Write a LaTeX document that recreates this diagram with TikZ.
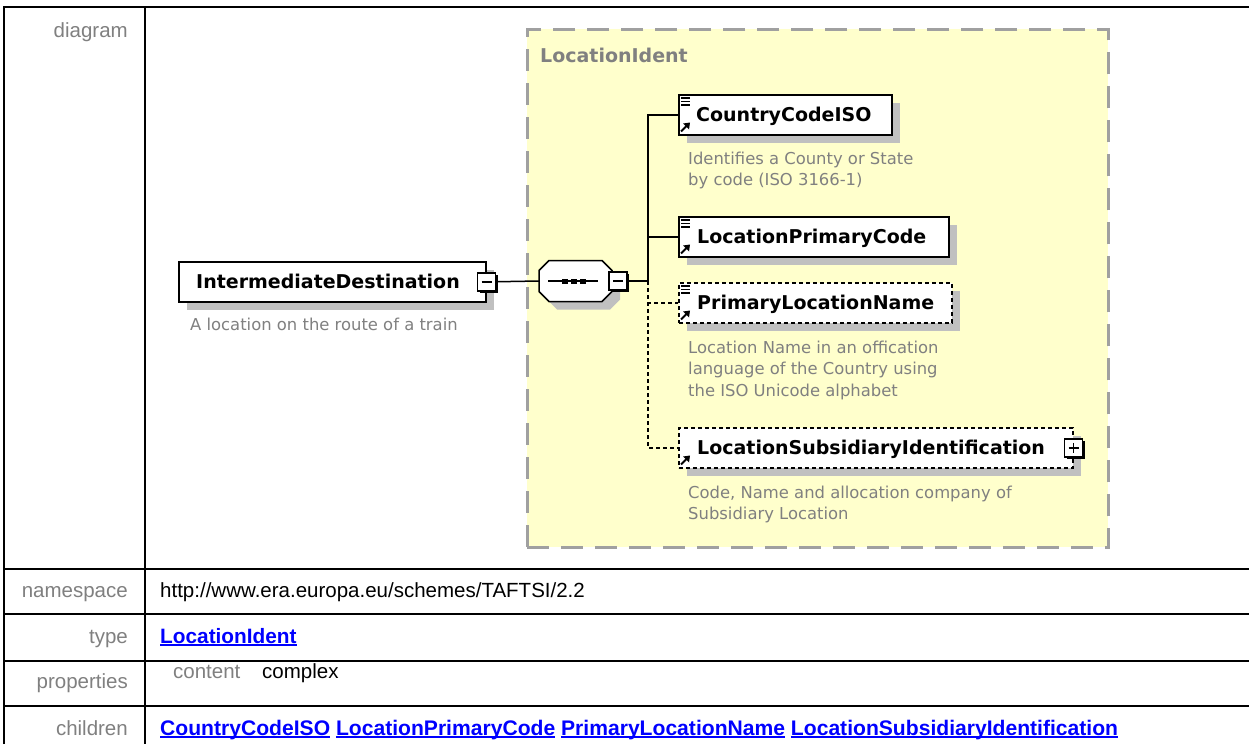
\documentclass[tikz,border=0pt]{standalone}
\usepackage{fontspec}
\setmainfont{Liberation Sans}
\newfontfamily\dfont{DejaVu Sans}
\usetikzlibrary{shadows,calc}
\definecolor{ylw}{HTML}{FFFFCC}
\definecolor{lblgray}{HTML}{808080}
\definecolor{bordgray}{HTML}{A0A0A0}
\definecolor{shgray}{HTML}{C0C0C0}
\definecolor{linkblue}{HTML}{0000FF}
\newcommand\mylink[1]{\setbox0=\hbox{#1}\rlap{\rule[-3pt]{\wd0}{1.7pt}}\box0\relax}
\newcommand\myarrow[1]{%
  \draw[line width=1.8pt] ($(#1.south west)+(3,-4)$) -- ++(6,-6);
  \fill ($(#1.south west)+(12,-13)$) -- ++(-7,1) -- ++(6,6) -- cycle;}
\newcommand\myicons[1]{%
  \foreach \yy in {4,7.5,11} \draw[line width=1.2pt] ($(#1.north west)+(3,\yy)$) -- ++(9,0);
  \myarrow{#1}}
\newcommand\octpath{(549,260.5) -- (602,260.5) -- (612,270.5) -- (612,291.5) -- (602,301.5) -- (549,301.5) -- (539,291.5) -- (539,270.5) -- cycle}
\begin{document}
\begin{tikzpicture}[x=1pt,y=-1pt,
  tline/.style={line width=2pt},
  lbl/.style={anchor=base east, inner sep=0, text=lblgray, font=\fontsize{20.5}{24}\selectfont},
  val/.style={anchor=base west, inner sep=0, font=\fontsize{20.5}{24}\selectfont},
  valb/.style={val, text=linkblue, font=\bfseries\fontsize{20.8}{24}\selectfont},
  elbox/.style={draw, fill=white, line width=1.5pt, inner sep=0, anchor=north west,
    drop shadow={shadow xshift=8pt,shadow yshift=-8pt,fill=shgray,opacity=1}},
  optbox/.style={elbox, dash pattern=on 4pt off 3pt},
  ename/.style={anchor=base west, inner sep=0, font=\dfont\bfseries\fontsize{19}{22}\selectfont},
  desc/.style={anchor=north west, inner sep=0, align=left, text=lblgray, font=\dfont\fontsize{16.4}{21.5}\selectfont},
  conn/.style={line width=1.5pt},
  optconn/.style={conn, dash pattern=on 4pt off 3pt},
  toggle/.style={draw, fill=white, line width=1.5pt, minimum size=18pt, inner sep=0,
    drop shadow={shadow xshift=2pt,shadow yshift=-2pt,fill=black,opacity=1}},
]
\useasboundingbox[fill=white] (0,0) rectangle (1249,744);

% ---- table ----
\draw[tline] (4,744) -- (4,7) -- (1249,7);
\draw[tline] (145,7) -- (145,744);
\foreach \yy in {569,614,661,706} \draw[tline] (4,\yy) -- (1249,\yy);

\node[lbl] (ldiag) at (128,37) {diagram};
\node[lbl] (lns) at (128,597) {namespace};
\node[lbl] (ltyp) at (128,643) {type};
\node[lbl] (lprop) at (128,688) {properties};
\node[lbl] (lchild) at (128,735) {children};

\node[val] (vns) at (160,597) {http://www.era.europa.eu/schemes/TAFTSI/2.2};
\node[valb] (vtype) at (160,643) {\mylink{LocationIdent}};
\node[val, text=lblgray] (vcont) at (173,678) {content};
\node[val] (vcomplex) at (262,678) {complex};
\node[valb, font=\bfseries\fontsize{21.1}{24}\selectfont] (vchild) at (160,735) {\mylink{CountryCodeISO} \mylink{LocationPrimaryCode} \mylink{PrimaryLocationName} \mylink{LocationSubsidiaryIdentification}};

% ---- diagram ----
\node[draw=bordgray, fill=ylw, line width=2.5pt, dash pattern=on 22pt off 12pt,
  minimum width=581pt, minimum height=518pt, anchor=north west, inner sep=0] (ltype) at (526,28) {};
\node[anchor=base west, inner sep=0, text=lblgray, font=\dfont\bfseries\fontsize{19}{22}\selectfont] (ltypelbl) at (540,62) {LocationIdent};

% root element
\node[elbox, minimum width=307pt, minimum height=40pt] (idest) at (178,261) {};
\node[ename] (idestt) at (196,288) {IntermediateDestination};
\node[toggle] (idestm) at (idest.east) {};
\draw[line width=1.5pt] ($(idestm.center)+(-5,0)$) -- ($(idestm.center)+(5,0)$);
\node[desc] (idestd) at (190,317.5) {\rule{0pt}{13pt}A location on the route of a train};

% sequence compositor
\node[minimum width=73pt, minimum height=41pt, inner sep=0] (seq) at (575.5,281) {};
\begin{scope}[shift={(8,8)}]
  \fill[shgray] \octpath;
\end{scope}
\draw[line width=1.5pt, fill=white] \octpath;
\draw[line width=1.5pt] ($(seq.center)+(-27.5,0)$) -- ($(seq.center)+(22.5,0)$);
\foreach \dx in {-10.5,-1.5,7.5} \fill ($(seq.center)+(\dx-3,-2.5)$) rectangle ++(6,5);
\node[toggle] (seqm) at ($(seq.east)+(6,0)$) {};
\draw[line width=1.5pt] ($(seqm.center)+(-5,0)$) -- ($(seqm.center)+(5,0)$);
\coordinate (tr) at (648,281);

% children
\node[elbox, minimum width=213pt, minimum height=40pt] (ccode) at (678,94) {};
\node[ename] (ccodet) at (696,121) {CountryCodeISO};
\node[desc] (ccoded) at (688,151) {\rule{0pt}{13pt}Identifies a County or State\\by code (ISO 3166-1)};

\node[elbox, minimum width=270pt, minimum height=40pt] (lpc) at (678,216) {};
\node[ename] (lpct) at (697,243) {LocationPrimaryCode};

\node[optbox, minimum width=273pt, minimum height=40pt] (pln) at (678,282) {};
\node[ename] (plnt) at (697,309) {PrimaryLocationName};
\node[desc] (plnd) at (688,340) {\rule{0pt}{13pt}Location Name in an offication\\language of the Country using\\the ISO Unicode alphabet};

\node[optbox, minimum width=394pt, minimum height=40pt] (lsi) at (678,427) {};
\node[ename] (lsit) at (697,454) {LocationSubsidiaryIdentification};
\node[toggle] (lsim) at (lsi.east) {};
\draw[line width=1.5pt] ($(lsim.center)+(-5,0)$) -- ($(lsim.center)+(5,0)$);
\draw[line width=1.5pt] ($(lsim.center)+(0,-5)$) -- ($(lsim.center)+(0,5)$);
\node[desc] (lsid) at (688,485) {\rule{0pt}{13pt}Code, Name and allocation company of\\Subsidiary Location};

\myicons{ccode}
\myicons{lpc}
\myicons{pln}
\myarrow{lsi}

% connectors
\draw[conn] (idestm.east) -- (seq.west);
\draw[conn] (seqm.east) -- (tr);
\draw[conn] (ccode.west) -| (tr);
\draw[conn] (lpc.west) -- (lpc.west -| tr);
\draw[optconn] (tr) |- (pln.west);
\draw[optconn] (tr) |- (lsi.west);
\end{tikzpicture}
\end{document}
